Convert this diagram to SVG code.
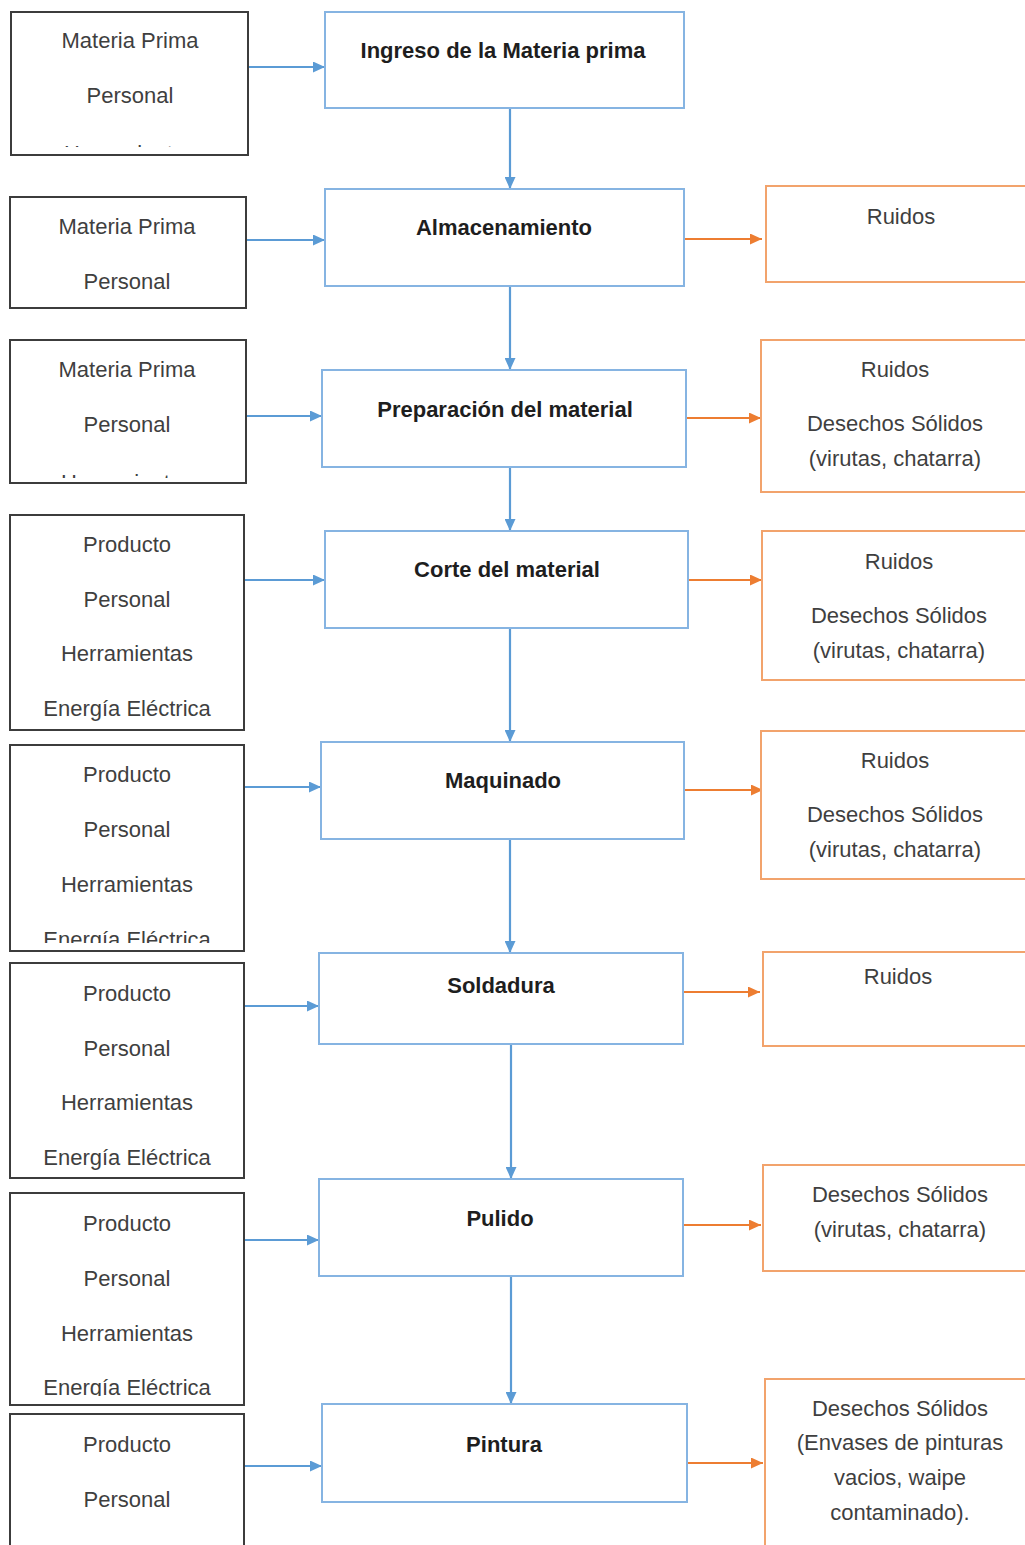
<svg xmlns="http://www.w3.org/2000/svg" width="1025" height="1545" viewBox="0 0 1025 1545">
<style>
.in{fill:#fff;stroke:#3c3c3c;stroke-width:2}
.pr{fill:#fff;stroke:#86b4e2;stroke-width:2}
.out{fill:#fff;stroke:#f2a36c;stroke-width:2}
.t{font-family:"Liberation Sans",Arial,sans-serif;font-size:22px;fill:#3f3f3f;text-anchor:middle}
.b{font-family:"Liberation Sans",Arial,sans-serif;font-size:22px;font-weight:bold;fill:#1e1e1e;text-anchor:middle}
.ab{stroke:#5b9bd5;stroke-width:2.2;fill:none}
.ao{stroke:#ed7d31;stroke-width:2.2;fill:none}
</style>
<defs>
<marker id="mb" markerWidth="12" markerHeight="11" refX="12" refY="5.5" orient="auto" markerUnits="userSpaceOnUse"><path d="M0,0 L12,5.5 L0,11 z" fill="#5b9bd5"/></marker>
<marker id="mo" markerWidth="12" markerHeight="11" refX="12" refY="5.5" orient="auto" markerUnits="userSpaceOnUse"><path d="M0,0 L12,5.5 L0,11 z" fill="#ed7d31"/></marker>
<clipPath id="c1"><rect x="11" y="12" width="237" height="135"/></clipPath>
<clipPath id="c3"><rect x="10" y="340" width="236" height="138"/></clipPath>
<clipPath id="c5"><rect x="10" y="745" width="234" height="198"/></clipPath>
<clipPath id="c7"><rect x="10" y="1193" width="234" height="203"/></clipPath>
</defs>
<rect width="1025" height="1545" fill="#fff"/>

<g id="connectors">
<line class="ab" x1="248" y1="67" x2="325" y2="67" marker-end="url(#mb)"/>
<line class="ab" x1="247" y1="240" x2="325" y2="240" marker-end="url(#mb)"/>
<line class="ab" x1="246" y1="416" x2="322" y2="416" marker-end="url(#mb)"/>
<line class="ab" x1="244" y1="580" x2="325" y2="580" marker-end="url(#mb)"/>
<line class="ab" x1="244" y1="787" x2="321" y2="787" marker-end="url(#mb)"/>
<line class="ab" x1="244" y1="1006" x2="319" y2="1006" marker-end="url(#mb)"/>
<line class="ab" x1="244" y1="1240" x2="319" y2="1240" marker-end="url(#mb)"/>
<line class="ab" x1="244" y1="1466" x2="322" y2="1466" marker-end="url(#mb)"/>
<line class="ab" x1="510" y1="108" x2="510" y2="189" marker-end="url(#mb)"/>
<line class="ab" x1="510" y1="286" x2="510" y2="370" marker-end="url(#mb)"/>
<line class="ab" x1="510" y1="467" x2="510" y2="531" marker-end="url(#mb)"/>
<line class="ab" x1="510" y1="628" x2="510" y2="742" marker-end="url(#mb)"/>
<line class="ab" x1="510" y1="839" x2="510" y2="953" marker-end="url(#mb)"/>
<line class="ab" x1="511" y1="1044" x2="511" y2="1179" marker-end="url(#mb)"/>
<line class="ab" x1="511" y1="1276" x2="511" y2="1404" marker-end="url(#mb)"/>
<line class="ao" x1="684" y1="239" x2="762" y2="239" marker-end="url(#mo)"/>
<line class="ao" x1="686" y1="418" x2="761" y2="418" marker-end="url(#mo)"/>
<line class="ao" x1="684" y1="580" x2="762" y2="580" marker-end="url(#mo)"/>
<line class="ao" x1="684" y1="790" x2="763" y2="790" marker-end="url(#mo)"/>
<line class="ao" x1="683" y1="992" x2="760" y2="992" marker-end="url(#mo)"/>
<line class="ao" x1="683" y1="1225" x2="761" y2="1225" marker-end="url(#mo)"/>
<line class="ao" x1="685" y1="1463" x2="763" y2="1463" marker-end="url(#mo)"/>
</g>

<g id="in1"><rect class="in" x="11" y="12" width="237" height="143"/>
<text class="t" x="130" y="48">Materia Prima</text><text class="t" x="130" y="103">Personal</text>
<text class="t" x="130" y="161" clip-path="url(#c1)">Herramientas</text></g>
<g id="in2"><rect class="in" x="10" y="197" width="236" height="111"/>
<text class="t" x="127" y="234">Materia Prima</text><text class="t" x="127" y="289">Personal</text></g>
<g id="in3"><rect class="in" x="10" y="340" width="236" height="143"/>
<text class="t" x="127" y="377">Materia Prima</text><text class="t" x="127" y="432">Personal</text>
<text class="t" x="127" y="490" clip-path="url(#c3)">Herramientas</text></g>
<g id="in4"><rect class="in" x="10" y="515" width="234" height="215"/>
<text class="t" x="127" y="552">Producto</text><text class="t" x="127" y="607">Personal</text><text class="t" x="127" y="661">Herramientas</text><text class="t" x="127" y="716">Energía Eléctrica</text></g>
<g id="in5"><rect class="in" x="10" y="745" width="234" height="206"/>
<text class="t" x="127" y="782">Producto</text><text class="t" x="127" y="837">Personal</text><text class="t" x="127" y="892">Herramientas</text><text class="t" x="127" y="947" clip-path="url(#c5)">Energía Eléctrica</text></g>
<g id="in6"><rect class="in" x="10" y="963" width="234" height="215"/>
<text class="t" x="127" y="1001">Producto</text><text class="t" x="127" y="1056">Personal</text><text class="t" x="127" y="1110">Herramientas</text><text class="t" x="127" y="1165">Energía Eléctrica</text></g>
<g id="in7"><rect class="in" x="10" y="1193" width="234" height="212"/>
<text class="t" x="127" y="1231">Producto</text><text class="t" x="127" y="1286">Personal</text><text class="t" x="127" y="1341">Herramientas</text><text class="t" x="127" y="1395" clip-path="url(#c7)">Energía Eléctrica</text></g>
<g id="in8"><rect class="in" x="10" y="1414" width="234" height="140"/>
<text class="t" x="127" y="1452">Producto</text><text class="t" x="127" y="1507">Personal</text></g>

<g id="p1"><rect class="pr" x="325" y="12" width="359" height="96"/><text class="b" x="503" y="58">Ingreso de la Materia prima</text></g>
<g id="p2"><rect class="pr" x="325" y="189" width="359" height="97"/><text class="b" x="504" y="235">Almacenamiento</text></g>
<g id="p3"><rect class="pr" x="322" y="370" width="364" height="97"/><text class="b" x="505" y="417">Preparación del material</text></g>
<g id="p4"><rect class="pr" x="325" y="531" width="363" height="97"/><text class="b" x="507" y="577">Corte del material</text></g>
<g id="p5"><rect class="pr" x="321" y="742" width="363" height="97"/><text class="b" x="503" y="788">Maquinado</text></g>
<g id="p6"><rect class="pr" x="319" y="953" width="364" height="91"/><text class="b" x="501" y="993">Soldadura</text></g>
<g id="p7"><rect class="pr" x="319" y="1179" width="364" height="97"/><text class="b" x="500" y="1226">Pulido</text></g>
<g id="p8"><rect class="pr" x="322" y="1404" width="365" height="98"/><text class="b" x="504" y="1452">Pintura</text></g>

<g id="o1"><rect class="out" x="766" y="186" width="270" height="96"/><text class="t" x="901" y="224">Ruidos</text></g>
<g id="o2"><rect class="out" x="761" y="340" width="275" height="152"/><text class="t" x="895" y="377">Ruidos</text><text class="t" x="895" y="431">Desechos Sólidos</text><text class="t" x="895" y="466">(virutas, chatarra)</text></g>
<g id="o3"><rect class="out" x="762" y="531" width="274" height="149"/><text class="t" x="899" y="569">Ruidos</text><text class="t" x="899" y="623">Desechos Sólidos</text><text class="t" x="899" y="658">(virutas, chatarra)</text></g>
<g id="o4"><rect class="out" x="761" y="731" width="275" height="148"/><text class="t" x="895" y="768">Ruidos</text><text class="t" x="895" y="822">Desechos Sólidos</text><text class="t" x="895" y="857">(virutas, chatarra)</text></g>
<g id="o5"><rect class="out" x="763" y="952" width="273" height="94"/><text class="t" x="898" y="984">Ruidos</text></g>
<g id="o6"><rect class="out" x="763" y="1165" width="273" height="106"/><text class="t" x="900" y="1202">Desechos Sólidos</text><text class="t" x="900" y="1237">(virutas, chatarra)</text></g>
<g id="o7"><rect class="out" x="765" y="1379" width="271" height="180"/><text class="t" x="900" y="1416">Desechos Sólidos</text><text class="t" x="900" y="1450">(Envases de pinturas</text><text class="t" x="900" y="1485">vacios, waipe</text><text class="t" x="900" y="1520">contaminado).</text></g>
</svg>
